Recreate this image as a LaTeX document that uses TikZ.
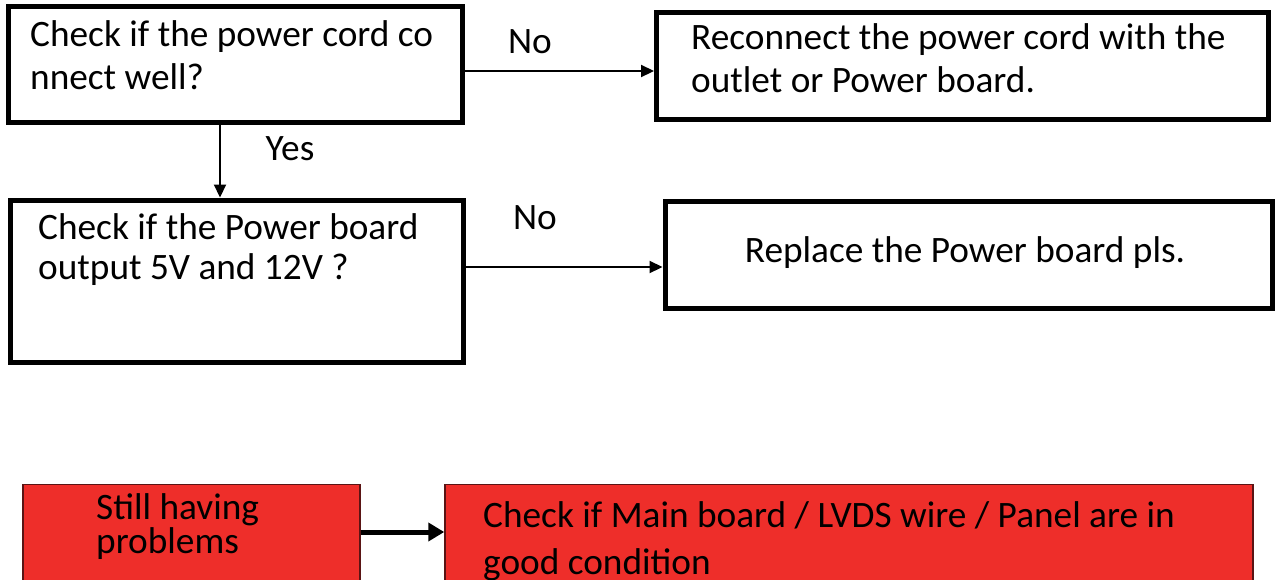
\documentclass[tikz,border=0pt]{standalone}
\usepackage{fontspec}
\setmainfont{Carlito}
\usetikzlibrary{arrows.meta}
\definecolor{boxred}{HTML}{EE2E2A}
\definecolor{redline}{HTML}{5A1414}
\tikzset{
  flowbox/.style={draw=black, line width=5pt, rectangle, inner sep=0pt},
  redbox/.style={draw=redline, line width=1.5pt, fill=boxred, rectangle, inner sep=0pt},
  txt/.style={inner sep=0pt, align=left, anchor=base west, font=\fontsize{37.3}{43}\selectfont},
  lbl/.style={inner sep=0pt, anchor=base, font=\fontsize{37.3}{43}\selectfont},
  arr/.style={line width=2.2pt, -{Triangle[length=13pt,width=12pt]}},
  bigarr/.style={line width=5pt, -{Triangle[length=16pt,width=18pt]}}
}
\begin{document}
\begin{tikzpicture}[x=1pt,y=-1pt]
\useasboundingbox (0,0) rectangle (1275,579);
% boxes
\node[flowbox, minimum width=454pt, minimum height=116pt] (b1) at (235.5,64.5) {};
\node[flowbox, minimum width=612pt, minimum height=107pt] (b2) at (962.5,66) {};
\node[flowbox, minimum width=453pt, minimum height=162pt] (b3) at (236.5,281) {};
\node[flowbox, minimum width=607pt, minimum height=107.5pt] (b4) at (968.5,254.75) {};
\node[redbox, minimum width=337pt, minimum height=120pt] (r1) at (191.5,544.5) {};
\node[redbox, minimum width=808pt, minimum height=120pt] (r2) at (849,544.5) {};
% texts (anchor base = baseline of the last line)
\node[txt] (t1) at (30,89) {Check if the power cord co\\nnect well?};
\node[txt] (t2) at (691,92) {Reconnect the power cord with the\\outlet or Power board.};
\node[txt, font=\fontsize{37.3}{40}\selectfont] (t3) at (38,279) {Check if the Power board\\output 5V and 12V ?};
\node[lbl] (t4) at (965,262) {Replace the Power board pls.};
\node[txt, font=\fontsize{37.3}{29}\selectfont] (t5) at (96,553) {Still having\\problems};
\node[txt, font=\fontsize{37.3}{47}\selectfont] (t6) at (483,574) {Check if Main board / LVDS wire / Panel are in\\good condition};
% connectors
\coordinate (a1) at ([yshift=-6.5pt]b1.east);
\coordinate (a2) at ([yshift=14pt]b3.east);
\coordinate (a3) at ([xshift=-15.5pt]b1.south);
\coordinate (a4) at ([yshift=12.5pt]r1.east);
\draw[arr] (a1) -- (a1 -| b2.west);
\draw[arr] (a2) -- (a2 -| b4.west);
\draw[arr] (a3) -- (a3 |- b3.north);
\draw[bigarr] (a4) -- (a4 -| r2.west);
% labels
\node[lbl] (n1) at (530,53) {No};
\node[lbl] (n2) at (535,229) {No};
\node[lbl] (y1) at (290,160) {Yes};
\end{tikzpicture}
\end{document}
